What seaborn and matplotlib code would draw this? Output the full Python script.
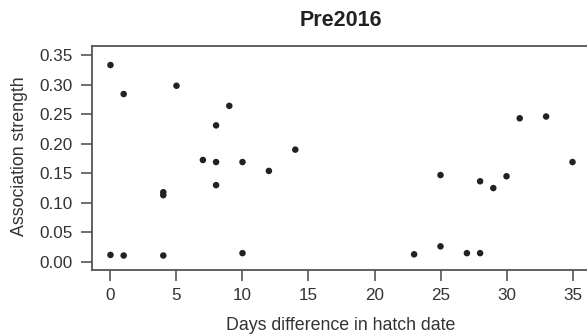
import matplotlib
matplotlib.use("Agg")
import matplotlib.pyplot as plt
import seaborn as sns
import pandas as pd

days = [0, 0, 1, 1, 4, 4, 4, 5, 7, 8, 8, 8, 9, 10, 10, 12, 14,
        23, 25, 25, 27, 28, 28, 29, 30, 31, 33, 35]
strength = [0.333, 0.012, 0.284, 0.011, 0.118, 0.113, 0.011, 0.298, 0.1725,
            0.231, 0.169, 0.130, 0.264, 0.169, 0.015, 0.154, 0.190,
            0.013, 0.147, 0.0265, 0.015, 0.1365, 0.015, 0.125, 0.145,
            0.243, 0.246, 0.169]
xticks = [0, 5, 10, 15, 20, 25, 30, 35]
yticks = [0.00, 0.05, 0.10, 0.15, 0.20, 0.25, 0.30, 0.35]

df = pd.DataFrame({"days": days, "strength": strength})

sns.set_style("white")
plt.rcParams['font.family'] = ['Liberation Sans', 'DejaVu Sans']

W, H = 587, 336
fig = plt.figure(figsize=(W / 100, H / 100), dpi=100)
ax = fig.add_axes([92 / W, 1 - 270 / H, (591 - 92) / W, (270 - 46) / H])

sns.scatterplot(data=df, x="days", y="strength", ax=ax, color="#222222",
                s=22, edgecolor="none", linewidth=0)

ax.set_xlim(-1.4, 36.4)
ax.set_ylim(-0.0135, 0.3652)
ax.set_xticks(xticks)
ax.set_xticklabels([str(t) for t in xticks])
ax.set_yticks(yticks)
ax.set_yticklabels([f"{t:.2f}" for t in yticks])

for sp in ax.spines.values():
    sp.set_color("#555555")
    sp.set_linewidth(1.3)

ax.tick_params(axis="both", direction="out", length=8, width=1.2,
               color="#555555", labelcolor="#333333", labelsize=12.3,
               left=True, bottom=True)
ax.tick_params(axis="y", pad=6)
ax.tick_params(axis="x", pad=5)

ax.set_xlabel("Days difference in hatch date", fontsize=12.8, color="#333333")
ax.set_ylabel("Association strength", fontsize=12.8, color="#333333")
ax.xaxis.set_label_coords(341 / W, 1 - 325 / H, transform=fig.transFigure)
ax.yaxis.set_label_coords(20 / W, 1 - 156 / H, transform=fig.transFigure)
ax.xaxis.label.set_va("center")
ax.yaxis.label.set_va("center")
fig.text(341 / W, 1 - 20 / H, "Pre2016", ha="center", va="center",
         fontsize=15.5, fontweight="bold", color="#222222")

fig.savefig("out.png", dpi=100)
